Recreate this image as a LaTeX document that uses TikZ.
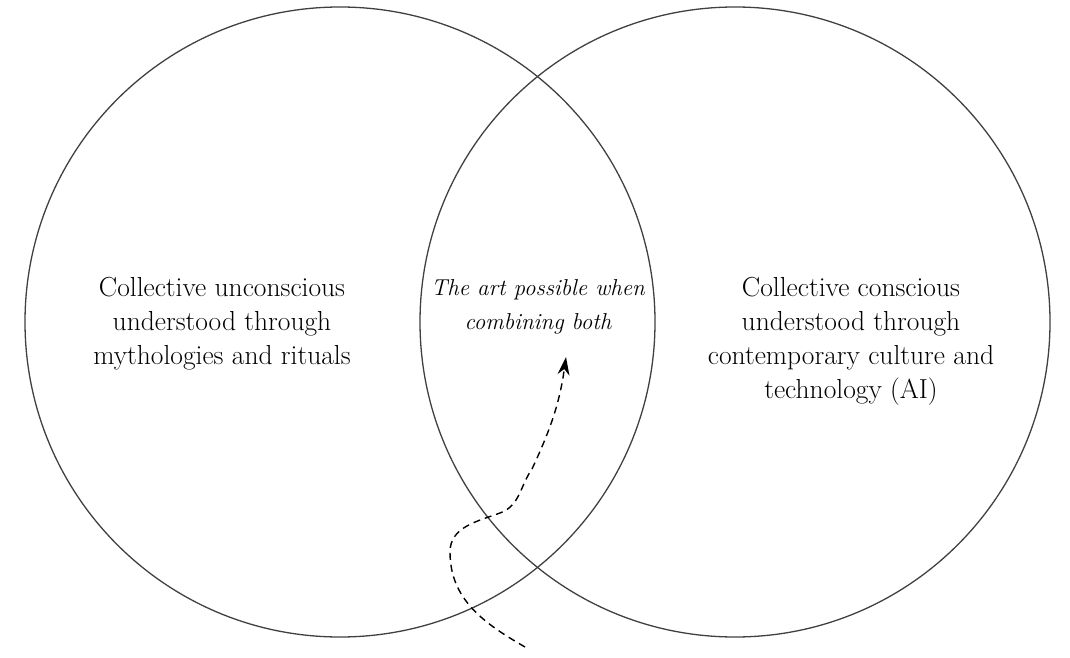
\documentclass[tikz,border=0pt]{standalone}
\usetikzlibrary{arrows.meta}
\usetikzlibrary{positioning}

\begin{document}
\begin{tikzpicture}[x=1pt,y=1pt,>={Stealth[length=18pt,width=12pt]},thick,
    ring/.style={draw=black!75,line width=1.3pt},
    set label/.style={align=center,font=\fontsize{27.5}{34}\selectfont},
    both label/.style={align=center,font=\fontsize{23}{34}\selectfont\itshape}]
      \useasboundingbox (0,0) rectangle (1070,657);

      \draw[ring] (340,335) circle (315);
      \draw[ring] (735,335) circle (315);

      \node [set label] (unconscious) at (222,333) {Collective unconscious\\understood through\\mythologies and rituals};
      \node [set label] (conscious) at (851,316) {Collective conscious\\understood through\\contemporary culture and\\technology (AI)};
      \node [both label] (both) at (538,350) {The art possible when\\combining both};

      \coordinate (start) at (525,10);
      \coordinate (bend) at (450,105);
      \coordinate (kink) at (500,144);
      \coordinate (rise) at (532,188);
      \coordinate (tip) at (566,300);

      \draw[->, dashed, line width=1.4pt, dash pattern=on 7pt off 5pt]
        (start) to[out=150,in=-90] (bend) to[out=90,in=200] (kink)
        to[out=20,in=-125] (rise) to[out=65,in=-98] (tip);
\end{tikzpicture}
\end{document}
